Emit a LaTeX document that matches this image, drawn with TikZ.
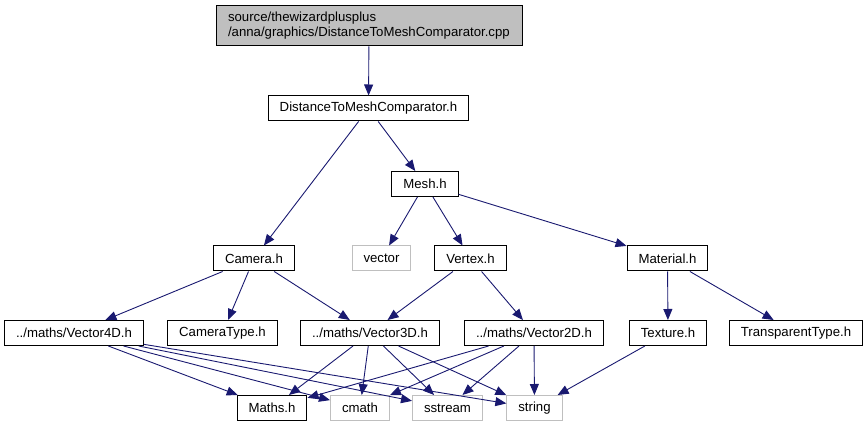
\documentclass[tikz,border=0pt]{standalone}
\usepackage{fontspec}
\setmainfont{Liberation Sans}
\usetikzlibrary{arrows.meta}
\definecolor{dxEdge} {HTML}{191970}
\definecolor{dxFill} {HTML}{BFBFBF}
\definecolor{dxMuted}{HTML}{BFBFBF}
\tikzset{
  inc/.style={draw=black,line width=1pt,fill=white,minimum height=25pt,
    inner xsep=11.5pt,inner ysep=0pt,font=\fontsize{13.2}{15}\selectfont},
  sys/.style={inc,draw=dxMuted},
  root/.style={inc,fill=dxFill,text width=282pt,inner xsep=12pt,align=left,
    minimum height=40pt},
  dep/.style={draw=dxEdge,line width=0.9pt,-{Triangle[length=11pt,width=9pt]}}
}
\begin{document}
\begin{tikzpicture}[x=1pt,y=-1pt]
    \useasboundingbox (0,0) rectangle (867,427);
    \node[root] (cpp) at (369,26)
      {source/thewizardplusplus\\/anna/graphics/DistanceToMeshComparator.cpp};
    \node[inc] (cmp)   at (368.5,108.5) {DistanceToMeshComparator.h};
    \node[inc] (mesh)  at (425,184)     {Mesh.h};
    \node[inc] (cam)   at (254,258.5)   {Camera.h};
    \node[sys] (vec)   at (381.5,258.5) {vector};
    \node[inc] (vtx)   at (470.5,258.5) {Vertex.h};
    \node[inc] (mat)   at (667.5,258.5) {Material.h};
    \node[inc] (v4)    at (74,333)      {../maths/Vector4D.h};
    \node[inc] (ctype) at (222.5,333)   {CameraType.h};
    \node[inc] (v3)    at (370,333)     {../maths/Vector3D.h};
    \node[inc] (v2)    at (534,333)     {../maths/Vector2D.h};
    \node[inc] (tex)   at (668,333)     {Texture.h};
    \node[inc] (ttype) at (796,333)     {TransparentType.h};
    \node[inc] (maths) at (272,408)     {Maths.h};
    \node[sys] (cmath) at (360,408)     {cmath};
    \node[sys] (sstr)  at (447.5,408)   {sstream};
    \node[sys] (str)   at (534.5,408)   {string};

    \draw[dep] (cpp) -- (cmp);
    \draw[dep] (cmp) -- (cam);
    \draw[dep] (cmp) -- (mesh);
    \foreach \t in {vec,vtx,mat} \draw[dep] (mesh) -- (\t);
    \foreach \t in {v4,ctype,v3} \draw[dep] (cam) -- (\t);
    \foreach \t in {v3,v2} \draw[dep] (vtx) -- (\t);
    \foreach \t in {tex,ttype} \draw[dep] (mat) -- (\t);
    \foreach \s in {v4,v3,v2}
      \foreach \t in {maths,cmath,sstr,str} \draw[dep] (\s) -- (\t);
    \draw[dep] (tex) -- (str);
  \end{tikzpicture}
\end{document}
